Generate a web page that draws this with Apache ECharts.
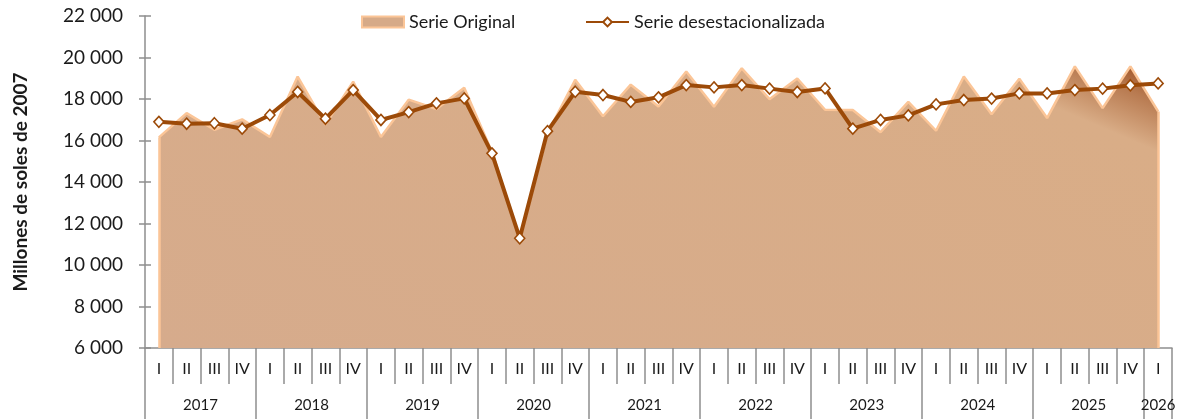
<!DOCTYPE html>
<html>
<head>
<meta charset="utf-8">
<script src="https://cdn.jsdelivr.net/npm/echarts@6/dist/echarts.min.js"></script>
<style>
html,body{margin:0;padding:0;background:#fff;}
#chart{width:1186px;height:419px;}
</style>
</head>
<body>
<div id="chart"></div>
<script>
// ---- Data ----
const categories = [
  '2017-I','2017-II','2017-III','2017-IV',
  '2018-I','2018-II','2018-III','2018-IV',
  '2019-I','2019-II','2019-III','2019-IV',
  '2020-I','2020-II','2020-III','2020-IV',
  '2021-I','2021-II','2021-III','2021-IV',
  '2022-I','2022-II','2022-III','2022-IV',
  '2023-I','2023-II','2023-III','2023-IV',
  '2024-I','2024-II','2024-III','2024-IV',
  '2025-I','2025-II','2025-III','2025-IV',
  '2026-I'
];
const serieOriginal = [
  16150, 17320, 16520, 17020,
  16170, 19080, 16770, 18840,
  16170, 17970, 17520, 18540,
  15450, 11250, 16350, 18930,
  17170, 18690, 17640, 19330,
  17630, 19480, 17990, 18990,
  17480, 17470, 16400, 17860,
  16470, 19080, 17270, 18980,
  17080, 19570, 17560, 19570,
  17400
];
const serieDesest = [
  16900, 16810, 16830, 16570,
  17230, 18340, 17050, 18430,
  16990, 17370, 17790, 18030,
  15380, 11290, 16450, 18350,
  18190, 17860, 18080, 18670,
  18560, 18670, 18500, 18340,
  18510, 16570, 16990, 17210,
  17740, 17950, 18020, 18270,
  18270, 18430, 18500, 18660,
  18750
];
const yTicks = { min: 6000, max: 22000, interval: 2000 };
const seriesNames = ['Serie Original', 'Serie desestacionalizada'];
const yAxisTitle = 'Millones de soles de 2007';

// ---- Derived helpers ----
const yearOf = c => c.split('-')[0];
const quarterOf = c => c.split('-')[1];
const yearGroups = [];
categories.forEach((c, i) => {
  const y = yearOf(c);
  const g = yearGroups[yearGroups.length - 1];
  if (g && g.year === y) g.count++;
  else yearGroups.push({ year: y, start: i, count: 1 });
});
const yearLabelAt = {};
yearGroups.forEach(g => { yearLabelAt[(g.start + g.count / 2).toFixed(1)] = g.year; });

const FONT = 'Lato';
const AXIS_GRAY = '#8e8e8e';
const LINE_BROWN = '#9c4a08';
const OUTLINE = '#fbc597';

const fmt = v => {
  const s = String(Math.round(v));
  return s.replace(/\B(?=(\d{3})+(?!\d))/g, ' ');
};

const chart = echarts.init(document.getElementById('chart'), null, { renderer: 'canvas' });

const areaGradient = new echarts.graphic.LinearGradient(1, 0, 0.743, 2.13, [
  { offset: 0, color: '#9a4a1c' },
  { offset: 0.05, color: '#b87a50' },
  { offset: 0.12, color: '#d9ad87' },
  { offset: 1, color: '#d6ab8c' }
]);

const option = {
  animation: false,
  textStyle: { fontFamily: FONT },
  legend: [
    {
      left: 361, top: 13, padding: 0,
      itemWidth: 42, itemHeight: 11,
      textStyle: { fontFamily: FONT, fontSize: 18, color: '#1a1a1a' },
      data: [{ name: seriesNames[0], icon: 'rect',
        itemStyle: { color: '#d6aa88', borderColor: OUTLINE, borderWidth: 2 } }]
    },
    {
      left: 585, top: 13, padding: 0,
      itemWidth: 43, itemHeight: 11,
      textStyle: { fontFamily: FONT, fontSize: 18, color: '#1a1a1a' },
      data: [{ name: seriesNames[1] }]
    }
  ],
  grid: {
    left: 145, right: 14, top: 16, bottom: 71,
    outerBoundsMode: 'none'
  },
  xAxis: [
    {
      type: 'category',
      data: categories,
      boundaryGap: true,
      position: 'bottom',
      axisLine: { show: true, lineStyle: { color: AXIS_GRAY, width: 1.5 } },
      axisTick: { show: true, interval: 0, length: 36, lineStyle: { color: AXIS_GRAY, width: 1.5 } },
      axisLabel: {
        interval: 0, margin: 13,
        fontFamily: FONT, fontSize: 16, color: '#1a1a1a',
        formatter: v => quarterOf(v)
      },
      splitLine: { show: false }
    },
    {
      type: 'value',
      min: 0, max: categories.length, interval: 4,
      position: 'bottom',
      axisLine: { show: false },
      axisTick: { show: true, length: 71, lineStyle: { color: AXIS_GRAY, width: 1.5 } },
      axisLabel: { show: false },
      splitLine: { show: false }
    },
    {
      type: 'value',
      min: 0, max: categories.length, interval: 0.5,
      position: 'bottom',
      axisLine: { show: false },
      axisTick: { show: false },
      axisLabel: {
        show: true, margin: 50,
        fontFamily: FONT, fontSize: 15, color: '#1a1a1a',
        showMinLabel: true, showMaxLabel: true,
        formatter: v => yearLabelAt[Number(v).toFixed(1)] || ''
      },
      splitLine: { show: false }
    }
  ],
  yAxis: [
    {
      type: 'value',
      min: yTicks.min, max: yTicks.max, interval: yTicks.interval,
      name: yAxisTitle,
      nameLocation: 'middle',
      nameRotate: 90,
      nameGap: 115,
      nameTextStyle: { fontFamily: FONT, fontSize: 19, fontWeight: 'bold', color: '#1a1a1a' },
      axisLine: { show: true, lineStyle: { color: AXIS_GRAY, width: 1.5 } },
      axisTick: { show: true, length: 6, lineStyle: { color: AXIS_GRAY, width: 1.5 } },
      axisLabel: { margin: 22, fontFamily: FONT, fontSize: 19, color: '#1a1a1a', formatter: fmt },
      splitLine: { show: false }
    },
    {
      type: 'value',
      min: yTicks.min, max: yTicks.max, interval: yTicks.interval,
      position: 'left',
      axisLine: { show: false },
      axisTick: { show: true, inside: true, length: 6, lineStyle: { color: AXIS_GRAY, width: 1.5 } },
      axisLabel: { show: false },
      splitLine: { show: false }
    }
  ],
  series: [
    {
      name: seriesNames[0],
      type: 'line',
      data: serieOriginal,
      xAxisIndex: 0, yAxisIndex: 0,
      symbol: 'none',
      z: 1,
      lineStyle: { color: OUTLINE, width: 2.5 },
      itemStyle: { color: '#d6aa88' },
      areaStyle: { color: areaGradient, opacity: 1, origin: 'start' },
      markLine: {
        silent: true, symbol: 'none', label: { show: false },
        lineStyle: { color: OUTLINE, width: 2.5, type: 'solid' },
        data: [
          [{ coord: [0, yTicks.min] }, { coord: [0, serieOriginal[0]] }],
          [{ coord: [categories.length - 1, yTicks.min] },
           { coord: [categories.length - 1, serieOriginal[serieOriginal.length - 1]] }]
        ]
      }
    },
    {
      name: seriesNames[1],
      type: 'line',
      data: serieDesest,
      xAxisIndex: 0, yAxisIndex: 0,
      z: 3,
      symbol: 'diamond',
      symbolSize: [10, 11],
      lineStyle: { color: LINE_BROWN, width: 4 },
      itemStyle: { color: '#ffffff', borderColor: LINE_BROWN, borderWidth: 1.6 }
    }
  ]
};
chart.setOption(option);
</script>
</body>
</html>
